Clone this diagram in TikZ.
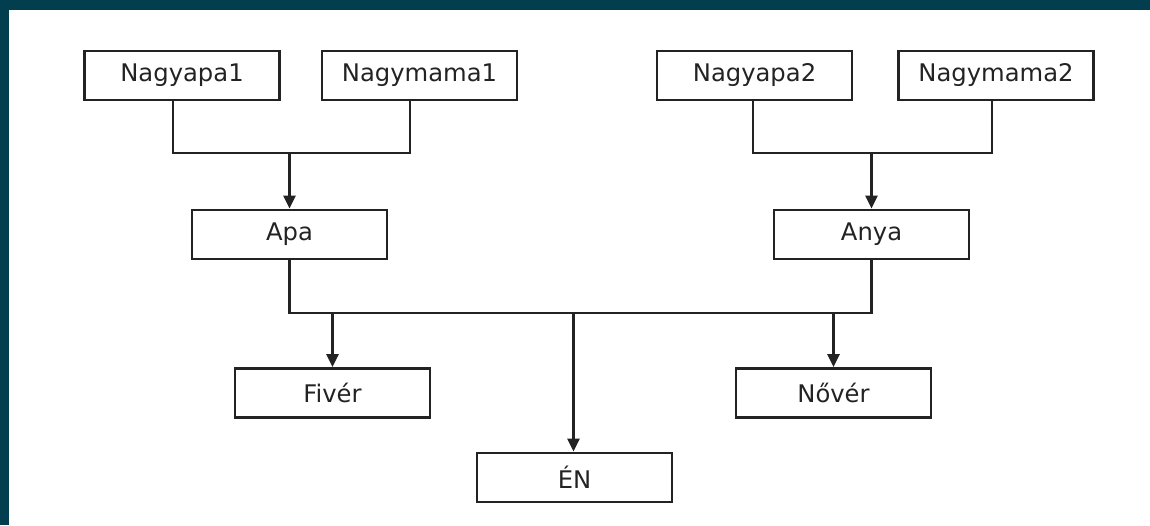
\documentclass[tikz,border=0pt]{standalone}
\usepackage{fontspec}
\setmainfont{DejaVu Sans}
\usetikzlibrary{arrows.meta}
\definecolor{myteal}{RGB}{2,62,77}
\definecolor{mygray}{RGB}{35,35,35}

\begin{document}
\begin{tikzpicture}[
    box/.style={draw=mygray, line width=0.8pt, fill=white, minimum width=1.95cm,
        minimum height=0.49cm, inner sep=0pt, text=mygray, font=\fontsize{6.9}{8}\selectfont},
    link/.style={draw=mygray, line width=0.8pt},
    arr/.style={link, -{Triangle[length=1.3mm, width=1.2mm]}}
]
    % Frame and white sheet
    \fill[myteal] (0, 0) rectangle (11.5, 5.25);
    \fill[white] (0.09, 0) rectangle (11.5, 5.15);
    \useasboundingbox (0, 0) rectangle (11.5, 5.25);

    % --- Grandparents (top row)
    \node[box] (nagyapa1) at (1.82, 4.495) {Nagyapa1};
    \node[box] (nagymama1) at (4.195, 4.495) {Nagymama1};
    \node[box] (nagyapa2) at (7.545, 4.495) {Nagyapa2};
    \node[box] (nagymama2) at (9.96, 4.495) {Nagymama2};

    % --- Parents
    \node[box] (apa) at (2.895, 2.905) {Apa};
    \node[box] (anya) at (8.715, 2.905) {Anya};

    % --- Children
    \node[box] (fiver) at (3.325, 1.32) {Fivér};
    \node[box] (nover) at (8.335, 1.32) {Nővér};
    \node[box] (en) at (5.745, 0.475) {ÉN};

    % Junction points on the horizontal lines
    \coordinate (kp1) at (2.895, 3.72);
    \coordinate (kp2) at (8.715, 3.72);
    \coordinate (bus) at (5.735, 2.12);

    % Left grandparents to Apa
    \draw[link] ([xshift=-0.9mm]nagyapa1.south) |- (kp1)
        -| ([xshift=-0.95mm]nagymama1.south);
    \draw[arr] (kp1) -- (apa.north);

    % Right grandparents to Anya
    \draw[link] ([xshift=-0.15mm]nagyapa2.south) |- (kp2)
        -| ([xshift=-0.4mm]nagymama2.south);
    \draw[arr] (kp2) -- (anya.north);

    % Parents to the children
    \draw[link] (apa.south) |- (bus) -| (anya.south);
    \draw[arr] (fiver.north |- bus) -- (fiver.north);
    \draw[arr] (bus) -- (bus |- en.north);
    \draw[arr] (nover.north |- bus) -- (nover.north);
\end{tikzpicture}
\end{document}
